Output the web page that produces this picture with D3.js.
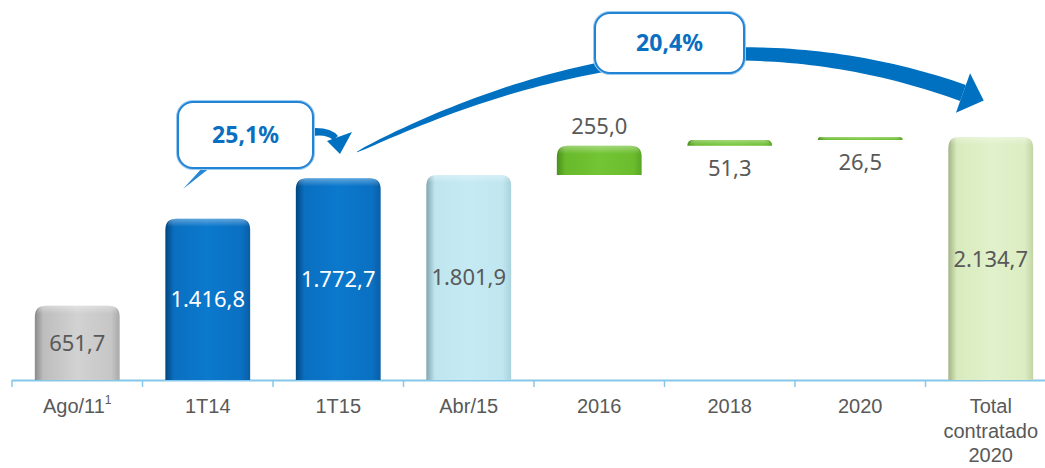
<!DOCTYPE html>
<html>
<head>
<meta charset="utf-8">
<script src="https://cdn.jsdelivr.net/npm/d3@7"></script>
<style>
  html, body { margin: 0; padding: 0; background: #ffffff; }
  svg { display: block; font-family: "Noto Sans", "Open Sans", sans-serif; }
</style>
</head>
<body>
<svg id="chart" width="1045" height="468"></svg>
<script>
// ---- data ----
const categories = ["Ago/11", "1T14", "1T15", "Abr/15", "2016", "2018", "2020", "Total contratado 2020"];
const categoryLines = [["Ago/11"], ["1T14"], ["1T15"], ["Abr/15"], ["2016"], ["2018"], ["2020"], ["Total", "contratado", "2020"]];
const values = [651.7, 1416.8, 1772.7, 1801.9, 255.0, 51.3, 26.5, 2134.7];
const barKind = ["total", "total", "total", "total", "delta", "delta", "delta", "total"];
const barStyle = ["gray", "blue", "blue", "light", "green", "green", "green", "lightgreen"];
const growthLabels = ["25,1%", "20,4%"];

// ---- setup ----
const W = 1045, H = 468;
const svg = d3.select("#chart");
const defs = svg.append("defs");

const ptBR = d3.formatLocale({ decimal: ",", thousands: ".", grouping: [3], currency: ["R$", ""] });
const fmt = ptBR.format(",.1f");

const x = d3.scaleBand().domain(categories).range([12, 1056]).paddingInner(0.35).paddingOuter(0.175);
const y = d3.scaleLinear().domain([0, 2134.7]).range([380, 137]);

// cumulative bases for the waterfall
let running = 0;
const bars = categories.map((c, i) => {
  let lo, hi;
  if (barKind[i] === "total") { lo = 0; hi = values[i]; running = values[i]; }
  else { lo = running; hi = running + values[i]; running = hi; }
  return { cat: c, i, lo, hi, v: values[i], style: barStyle[i] };
});

// gradients
const grads = {
  gray:       ["#8a8a8a", "#bdbdbd", "#d2d2d2", "#c6c6c6", "#a9a9a9"],
  blue:       ["#03457e", "#0a6fc0", "#0b79cd", "#0a70c2", "#0a5ea6"],
  light:      ["#7fa6b1", "#bfe5ef", "#c5eaf3", "#c0e6f0", "#a9d2dc"],
  green:      ["#4a8f1c", "#68b92b", "#73c535", "#6bbd2e", "#5aa624"],
  lightgreen: ["#a3b385", "#d8ebbd", "#e1f1cb", "#dcedc3", "#c3d5a6"]
};
Object.entries(grads).forEach(([k, cols]) => {
  const g = defs.append("linearGradient").attr("id", "g-" + k).attr("x1", "0").attr("x2", "1").attr("y1", "0").attr("y2", "0");
  [0, 0.1, 0.5, 0.9, 1].forEach((o, j) => g.append("stop").attr("offset", o).attr("stop-color", cols[j]));
});
const topGrad = defs.append("linearGradient").attr("id", "g-top").attr("x1", "0").attr("x2", "0").attr("y1", "0").attr("y2", "1");
topGrad.append("stop").attr("offset", 0).attr("stop-color", "#ffffff").attr("stop-opacity", 0.35);
topGrad.append("stop").attr("offset", 1).attr("stop-color", "#ffffff").attr("stop-opacity", 0);

function roundedTop(x0, y0, w, h, r) {
  r = Math.min(r, h, w / 2);
  return `M${x0},${y0 + h}V${y0 + r}Q${x0},${y0} ${x0 + r},${y0}H${x0 + w - r}Q${x0 + w},${y0} ${x0 + w},${y0 + r}V${y0 + h}Z`;
}

// ---- axis ----
const axisG = svg.append("g").attr("transform", "translate(0,380)")
  .call(d3.axisBottom(x).tickSize(0).tickPadding(0).tickFormat(""));
axisG.select(".domain").remove();
axisG.selectAll(".tick text").remove();

svg.append("line").attr("x1", 12).attr("x2", W).attr("y1", 380.5).attr("y2", 380.5)
  .attr("stroke", "#86c8ea").attr("stroke-width", 2);
const boundaries = d3.range(categories.length).map(i => x(categories[i]) - x.step() * x.paddingInner() / 2 - (i === 0 ? x.step() * (x.paddingOuter() - x.paddingInner() / 2) : 0));
boundaries.forEach(bx => {
  svg.append("line").attr("x1", bx).attr("x2", bx).attr("y1", 380).attr("y2", 387)
    .attr("stroke", "#86c8ea").attr("stroke-width", 1.5);
});

// category labels
axisG.selectAll(".tick").each(function (d, i) {
  const t = d3.select(this).append("text")
    .attr("text-anchor", "middle").attr("fill", "#595959")
    .attr("font-size", 20).attr("y", 33);
  categoryLines[i].forEach((ln, k) => {
    t.append("tspan").attr("x", 0).attr("dy", k === 0 ? 0 : 24.5).text(ln);
  });
  if (i === 0) {
    t.append("tspan").attr("font-size", 12).attr("dy", -9).text("1");
  }
});

// ---- bars ----
const bw = x.bandwidth();
const barG = svg.append("g");
bars.forEach(b => {
  const x0 = x(b.cat);
  const yTop = y(b.hi), yBot = y(b.lo);
  const h = yBot - yTop;
  barG.append("path").attr("d", roundedTop(x0, yTop, bw, h, 11)).attr("fill", `url(#g-${b.style})`);
  barG.append("path").attr("d", roundedTop(x0 + 2, yTop, bw - 4, Math.min(h, 8), 10)).attr("fill", "url(#g-top)");
});

// value labels
bars.forEach((b, i) => {
  const cx = x(b.cat) + bw / 2;
  let ly, col = "#595959";
  if (b.style === "blue") col = "#ffffff";
  if (barKind[i] === "total") ly = (y(b.hi) + y(b.lo)) / 2 + 8;
  else if (i === 4) ly = y(b.hi) - 12;
  else ly = y(b.lo) + 30;
  svg.append("text").attr("x", cx).attr("y", ly).attr("text-anchor", "middle")
    .attr("font-size", 22).attr("fill", col).text(fmt(b.v));
});

// ---- growth arrows ----
const arrowColor = "#0070c0";
// big arc from 1T15 area to total
const P0 = [357, 152], C = [680, -8], P2 = [963, 93];
const N = 80, upper = [], lower = [];
for (let k = 0; k <= N; k++) {
  const t = k / N;
  const px = (1 - t) * (1 - t) * P0[0] + 2 * t * (1 - t) * C[0] + t * t * P2[0];
  const py = (1 - t) * (1 - t) * P0[1] + 2 * t * (1 - t) * C[1] + t * t * P2[1];
  const dx = 2 * (1 - t) * (C[0] - P0[0]) + 2 * t * (P2[0] - C[0]);
  const dy = 2 * (1 - t) * (C[1] - P0[1]) + 2 * t * (P2[1] - C[1]);
  const len = Math.hypot(dx, dy), nx = -dy / len, ny = dx / len;
  const w = 0.6 + 16.5 * Math.pow(t, 0.55);
  upper.push([px - nx * w / 2, py - ny * w / 2]);
  lower.push([px + nx * w / 2, py + ny * w / 2]);
}
svg.append("path").attr("d", d3.line()(upper.concat(lower.reverse())) + "Z").attr("fill", arrowColor);
{
  const dx = P2[0] - C[0], dy = P2[1] - C[1], len = Math.hypot(dx, dy);
  const ux = dx / len, uy = dy / len, nx = -uy, ny = ux;
  const tip = [P2[0] + 22 * ux, P2[1] + 22 * uy];
  svg.append("path").attr("d", d3.line()([[P2[0] + nx * 21, P2[1] + ny * 21], tip, [P2[0] - nx * 21, P2[1] - ny * 21]]) + "Z")
    .attr("fill", arrowColor);
}
// small arrow next to 25,1%
svg.append("path").attr("d", "M312,128 Q331,127 338,136 L333,140 Q327,134 312,136 Z").attr("fill", arrowColor);
svg.append("path").attr("d", "M352,132 L327,141 L340,154 Z").attr("fill", arrowColor);
// callout tail
svg.append("path").attr("d", "M203,167 L211,167 L183,189 Z").attr("fill", "#2a86d6");

// callout boxes
const boxes = [
  { x: 178, y: 102, w: 135, h: 66, label: growthLabels[0] },
  { x: 595, y: 13, w: 149, h: 60, label: growthLabels[1] }
];
boxes.forEach(bx => {
  svg.append("rect").attr("x", bx.x).attr("y", bx.y).attr("width", bx.w).attr("height", bx.h)
    .attr("rx", 15).attr("ry", 15).attr("fill", "#ffffff").attr("stroke", "#9ccbef").attr("stroke-width", 4);
  svg.append("rect").attr("x", bx.x).attr("y", bx.y).attr("width", bx.w).attr("height", bx.h)
    .attr("rx", 15).attr("ry", 15).attr("fill", "#ffffff").attr("stroke", "#2383d4").attr("stroke-width", 2);
  svg.append("text").attr("x", bx.x + bx.w / 2).attr("y", bx.y + bx.h / 2 + 8)
    .attr("text-anchor", "middle").attr("font-size", 23).attr("font-weight", "bold")
    .attr("fill", "#0b6fc1").text(bx.label);
});
</script>
</body>
</html>
